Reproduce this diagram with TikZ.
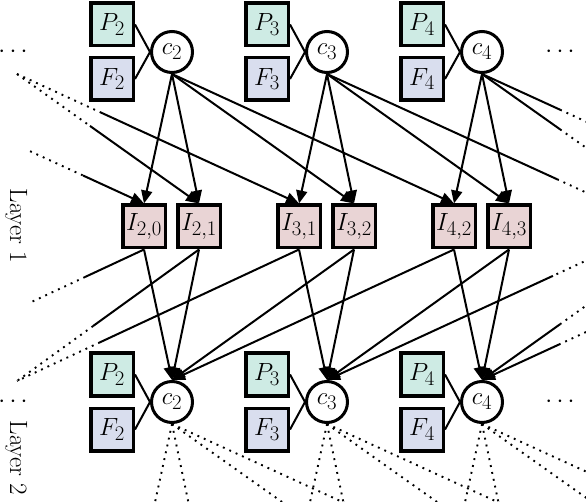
\documentclass[tikz,border=0pt]{standalone}
\usetikzlibrary{arrows.meta,calc}
\definecolor{pcol}{RGB}{206,235,228}
\definecolor{fcol}{RGB}{217,222,238}
\definecolor{icol}{RGB}{233,212,213}
\tikzset{
  txt/.style={font=\fontsize{25}{30}\selectfont},
  ntxt/.style={font=\fontsize{27.5}{32}\selectfont},
  box/.style={draw=black, line width=3.5pt, minimum size=42.5pt, inner sep=0pt, ntxt},
  pbox/.style={box, fill=pcol},
  fbox/.style={box, fill=fcol},
  ibox/.style={box, fill=icol},
  cnode/.style={circle, draw=black, line width=3pt, minimum size=41pt, inner sep=0pt, fill=white, ntxt},
  conn/.style={line width=2pt},
  arr/.style={conn, -{Triangle[length=13pt,width=11pt]}},
  dotln/.style={line width=1.9pt, dash pattern=on 1.9pt off 5.1pt},
  lbl/.style={txt, rotate=-90},
}
\begin{document}
\begin{tikzpicture}[x=1pt,y=-1pt]
\useasboundingbox (0,0) rectangle (586,502);
\clip (0,0) rectangle (586,502);

% ---------- layer 1 nodes ----------
\foreach \k/\dx in {2/0,3/155,4/310}{
  \node[pbox] (P\k a) at (112+\dx,24.5) {$P_\k$};
  \node[fbox] (F\k a) at (112+\dx,79) {$F_\k$};
  \node[cnode] (c\k a) at (172+\dx,52) {$c_\k$};
  \draw[conn] (P\k a.east) -- (c\k a.west);
  \draw[conn] (F\k a.east) -- (c\k a.west);
  \node[pbox] (P\k b) at (112+\dx,374.5) {$P_\k$};
  \node[fbox] (F\k b) at (112+\dx,429.5) {$F_\k$};
  \node[cnode] (c\k b) at (172+\dx,402) {$c_\k$};
  \draw[conn] (P\k b.east) -- (c\k b.west);
  \draw[conn] (F\k b.east) -- (c\k b.west);
}
\node[ibox] (I20) at (144,226.5) {$I_{2,0}$};
\node[ibox] (I21) at (199,226.5) {$I_{2,1}$};
\node[ibox] (I31) at (299,226.5) {$I_{3,1}$};
\node[ibox] (I32) at (354,226.5) {$I_{3,2}$};
\node[ibox] (I42) at (454,226.5) {$I_{4,2}$};
\node[ibox] (I43) at (509,226.5) {$I_{4,3}$};

% ellipses and labels
\node[txt] (dl1) at (13,52) {$\cdots$};
\node[txt] (dr1) at (560,52) {$\cdots$};
\node[txt] (dl2) at (13,402) {$\cdots$};
\node[txt] (dr2) at (560,402) {$\cdots$};
\node[lbl] (lay1) at (16,226) {Layer 1};
\node[lbl] (lay2) at (16,458) {Layer 2};

% virtual off-picture ends
\coordinate (c0s) at (-138,74);
\coordinate (c1s) at (17,74);
\coordinate (I53n) at (609,203);
\coordinate (I54n) at (664,203);
\coordinate (I64n) at (764,203);
\coordinate (c0n) at (-138,381);
\coordinate (c1n) at (17,381);
\coordinate (I53s) at (609,250);
\coordinate (I54s) at (664,250);
\coordinate (I64s) at (764,250);
\foreach \n/\x in {20/144,21/199,31/299,32/354,42/454,43/509,53/609,54/664,64/764}
  \coordinate (J\n) at (\x,553);

% ---------- c (layer 1) -> I ----------
\draw[arr] (c2a.south) -- (I20.north);
\draw[arr] (c2a.south) -- (I21.north);
\draw[arr] (c2a.south) -- (I32.north);
\draw[arr] (c2a.south) -- (I42.north);
\draw[arr] (c3a.south) -- (I31.north);
\draw[arr] (c3a.south) -- (I32.north);
\draw[arr] (c3a.south) -- (I43.north);
\draw[arr] (c4a.south) -- (I42.north);
\draw[arr] (c4a.south) -- (I43.north);
% off to the left
\draw[dotln] ($(c0s)!0.596!(I20.north)$) -- ($(c0s)!0.784!(I20.north)$);
\draw[arr] ($(c0s)!0.784!(I20.north)$) -- (I20.north);
\draw[dotln] (c1s) -- ($(c1s)!0.401!(I21.north)$);
\draw[arr] ($(c1s)!0.401!(I21.north)$) -- (I21.north);
\draw[dotln] (c1s) -- ($(c1s)!0.294!(I31.north)$);
\draw[arr] ($(c1s)!0.294!(I31.north)$) -- (I31.north);
% off to the right
\draw[conn] (c3a.south) -- ($(c3a.south)!0.816!(I53n)$);
\draw[dotln] ($(c3a.south)!0.816!(I53n)$) -- (I53n);
\draw[conn] (c4a.south) -- ($(c4a.south)!0.429!(I54n)$);
\draw[dotln] ($(c4a.south)!0.429!(I54n)$) -- (I54n);
\draw[conn] (c4a.south) -- ($(c4a.south)!0.277!(I64n)$);
\draw[dotln] ($(c4a.south)!0.277!(I64n)$) -- (I64n);

% ---------- I -> c (layer 2) ----------
\draw[arr] (I20.south) -- (c2b.north);
\draw[arr] (I21.south) -- (c2b.north);
\draw[arr] (I32.south) -- (c2b.north);
\draw[arr] (I42.south) -- (c2b.north);
\draw[arr] (I31.south) -- (c3b.north);
\draw[arr] (I32.south) -- (c3b.north);
\draw[arr] (I43.south) -- (c3b.north);
\draw[arr] (I42.south) -- (c4b.north);
\draw[arr] (I43.south) -- (c4b.north);
% off to the left
\draw[conn] (I20.south) -- ($(I20.south)!0.209!(c0n)$);
\draw[dotln] ($(I20.south)!0.209!(c0n)$) -- ($(I20.south)!0.404!(c0n)$);
\draw[conn] (I21.south) -- ($(I21.south)!0.582!(c1n)$);
\draw[dotln] ($(I21.south)!0.582!(c1n)$) -- (c1n);
\draw[conn] (I31.south) -- ($(I31.south)!0.706!(c1n)$);
\draw[dotln] ($(I31.south)!0.706!(c1n)$) -- (c1n);
% off to the right
\draw[dotln] (I53s) -- ($(I53s)!0.199!(c3b.north)$);
\draw[arr] ($(I53s)!0.199!(c3b.north)$) -- (c3b.north);
\draw[dotln] (I54s) -- ($(I54s)!0.571!(c4b.north)$);
\draw[arr] ($(I54s)!0.571!(c4b.north)$) -- (c4b.north);
\draw[dotln] (I64s) -- ($(I64s)!0.723!(c4b.north)$);
\draw[arr] ($(I64s)!0.723!(c4b.north)$) -- (c4b.north);

% ---------- layer 2 -> next (dotted) ----------
\draw[dotln] (c2b.south) -- (J20);
\draw[dotln] (c2b.south) -- (J21);
\draw[dotln] (c2b.south) -- (J32);
\draw[dotln] (c2b.south) -- (J42);
\draw[dotln] (c3b.south) -- (J31);
\draw[dotln] (c3b.south) -- (J32);
\draw[dotln] (c3b.south) -- (J43);
\draw[dotln] (c3b.south) -- (J53);
\draw[dotln] (c4b.south) -- (J42);
\draw[dotln] (c4b.south) -- (J43);
\draw[dotln] (c4b.south) -- (J54);
\draw[dotln] (c4b.south) -- (J64);
\end{tikzpicture}
\end{document}
